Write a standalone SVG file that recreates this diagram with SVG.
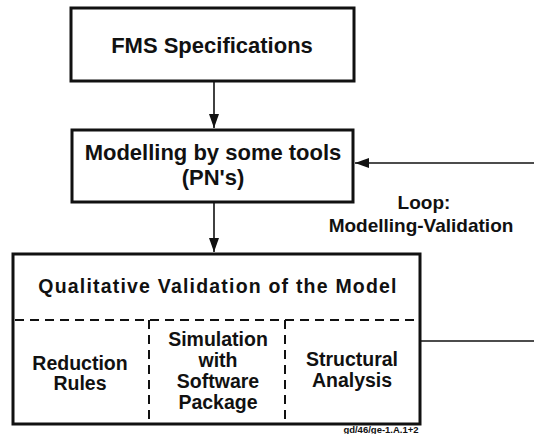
<svg xmlns="http://www.w3.org/2000/svg" width="534" height="434" viewBox="0 0 534 434">
<style>
.box{fill:#fff;stroke:#111;stroke-width:3}
.t{font-family:"Liberation Sans",Arial,sans-serif;font-weight:bold;fill:#111;text-anchor:middle}
.ln{stroke:#111;stroke-width:1.6;fill:none}
.dash{stroke:#111;stroke-width:2;stroke-dasharray:9,6;fill:none}
</style>
<defs>
<marker id="ah" viewBox="0 0 14 10" refX="14" refY="5" markerWidth="14" markerHeight="10" markerUnits="userSpaceOnUse" orient="auto">
<path d="M0,0 L14,5 L0,10 Z" fill="#111"/>
</marker>
</defs>
<rect width="534" height="434" fill="#fff"/>
<g id="connectors">
<line class="ln" x1="214" y1="82" x2="214" y2="128" marker-end="url(#ah)"/>
<line class="ln" x1="214" y1="203" x2="214" y2="252" marker-end="url(#ah)"/>
<line class="ln" x1="534" y1="163" x2="355" y2="163" marker-end="url(#ah)"/>
<line class="ln" x1="421" y1="341" x2="534" y2="341"/>
</g>
<g id="fms">
<rect class="box" x="71" y="8" width="283" height="73"/>
<text class="t" x="212" y="53" font-size="22">FMS Specifications</text>
</g>
<g id="modelling">
<rect class="box" x="72" y="130" width="281" height="72"/>
<text class="t" x="213" y="160" font-size="22">Modelling by some tools</text>
<text class="t" x="213" y="185" font-size="22">(PN's)</text>
</g>
<g id="loop-label">
<text class="t" x="424" y="209" font-size="19">Loop:</text>
<text class="t" x="421" y="232" font-size="19">Modelling-Validation</text>
</g>
<g id="validation">
<rect class="box" x="13" y="254" width="407" height="170"/>
<text class="t" x="218" y="293" font-size="19.5" letter-spacing="1.2">Qualitative Validation of the Model</text>
<line class="dash" x1="15" y1="320" x2="418" y2="320"/>
<line class="dash" x1="149" y1="320" x2="149" y2="422"/>
<line class="dash" x1="285" y1="320" x2="285" y2="422"/>
</g>
<g id="reduction">
<text class="t" x="80" y="370" font-size="19.5">Reduction</text>
<text class="t" x="80" y="390" font-size="19.5">Rules</text>
</g>
<g id="simulation">
<text class="t" x="218" y="346" font-size="19.5">Simulation</text>
<text class="t" x="218" y="367" font-size="19.5">with</text>
<text class="t" x="218" y="388" font-size="19.5">Software</text>
<text class="t" x="218" y="409" font-size="19.5">Package</text>
</g>
<g id="structural">
<text class="t" x="352" y="366" font-size="19.5">Structural</text>
<text class="t" x="352" y="387" font-size="19.5">Analysis</text>
</g>
<text class="t" x="381" y="433" font-size="9.5">gd/46/ge-1.A.1+2</text>
</svg>
